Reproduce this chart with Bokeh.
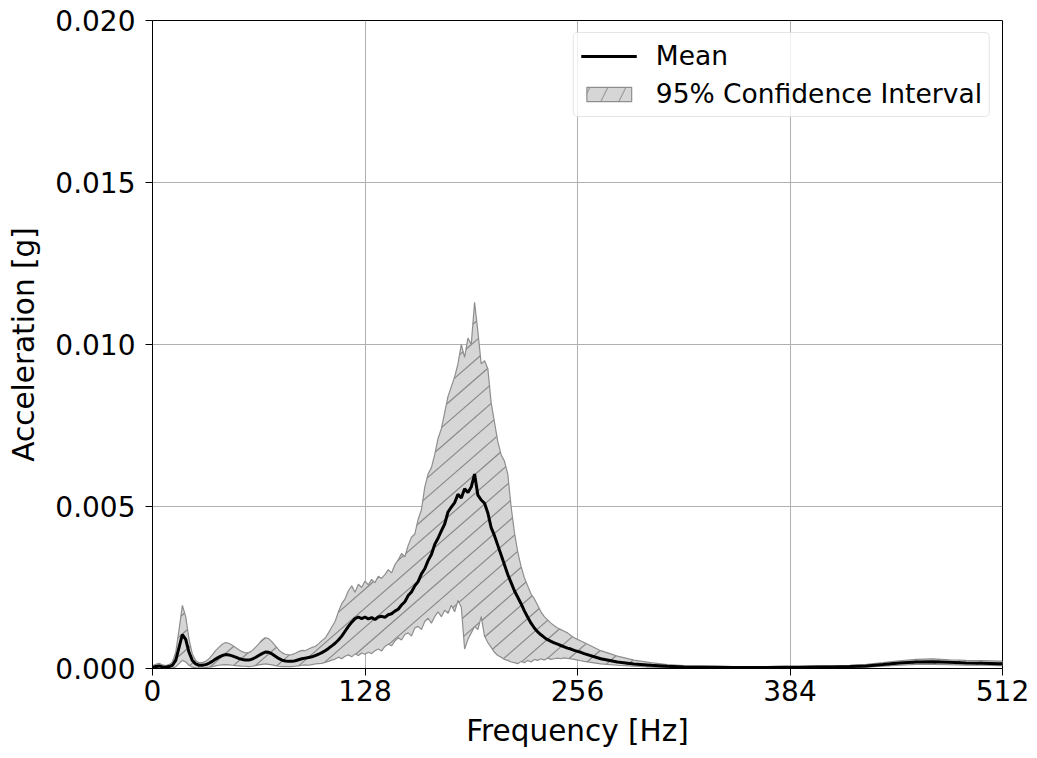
import numpy as np
from bokeh.plotting import figure
from bokeh.models import FixedTicker, PrintfTickFormatter, Range1d, Legend, LegendItem
from bokeh.embed import file_html
from bokeh.resources import INLINE

# Frequency grid [Hz]
freq = list(range(0, 260, 2)) + list(range(260, 511, 10)) + [512]

# Values in units of 1e-4 g
UNIT = 1e-4
mean_vals = [
    0.3, 0.6, 0.8, 0.5, 0.4, 0.6, 1.0, 2.5, 6.5, 10.5,
    9.0, 5.0, 2.5, 1.4, 1.0, 1.0, 1.2, 1.6, 2.2, 2.9,
    3.5, 4.0, 4.3, 4.2, 3.9, 3.5, 3.1, 2.8, 2.6, 2.6,
    2.9, 3.4, 4.0, 4.6, 5.1, 5.0, 4.5, 3.8, 3.1, 2.6,
    2.3, 2.2, 2.2, 2.4, 2.7, 3.0, 3.2, 3.4, 3.6, 4.0,
    4.4, 4.9, 5.5, 6.2, 7.0, 7.8, 8.8, 10.0, 11.5, 13.0,
    14.3, 15.4, 15.9, 15.4, 15.9, 15.3, 15.7, 15.1, 15.9, 16.1,
    15.8, 16.6, 16.9, 17.7, 18.3, 19.6, 20.6, 22.5, 23.6, 25.5,
    26.8, 29.2, 30.8, 33.3, 35.2, 38.3, 40.2, 42.5, 44.6, 48.3,
    49.8, 51.2, 53.8, 52.6, 55.5, 54.3, 56.0, 60.0, 53.5, 52.0,
    51.0, 48.0, 43.5, 41.0, 38.0, 35.0, 32.0, 29.0, 26.5, 24.0,
    22.0, 20.0, 17.8, 15.8, 14.0, 12.5, 11.3, 10.4, 9.6, 8.9,
    8.4, 7.9, 7.5, 7.1, 6.7, 6.3, 6.0, 5.6, 5.3, 5.0,
    4.6, 3.0, 2.0, 1.4, 1.0, 0.7, 0.5, 0.4, 0.35, 0.3,
    0.3, 0.3, 0.35, 0.4, 0.45, 0.5, 0.6, 0.8, 1.2, 1.7,
    2.0, 2.1, 1.9, 1.7, 1.6, 1.5,
    1.5,
]
upper_vals = [
    0.8, 1.3, 1.6, 1.1, 0.9, 1.2, 2.0, 5.0, 12.0, 19.5,
    16.0, 9.0, 4.5, 2.5, 1.8, 1.8, 2.2, 3.0, 4.2, 5.5,
    6.5, 7.5, 8.0, 7.8, 7.2, 6.5, 5.8, 5.2, 4.8, 4.9,
    5.5, 6.5, 7.6, 8.8, 9.5, 9.2, 8.2, 7.0, 5.8, 4.9,
    4.4, 4.2, 4.3, 4.7, 5.2, 5.6, 5.5, 6.0, 6.5, 6.8,
    7.6, 8.6, 9.4, 11.0, 12.8, 14.5, 17.5, 20.0, 21.5, 24.0,
    25.5, 23.5, 26.0, 25.0, 27.0, 25.8, 27.5, 26.5, 28.5, 27.8,
    29.0, 30.5, 29.5, 32.0, 33.5, 35.5, 34.5, 38.0, 40.5, 41.5,
    46.0, 49.0, 56.0, 60.0, 62.0, 66.0, 71.0, 74.0, 79.0, 84.0,
    87.0, 90.0, 94.0, 100.0, 96.0, 102.0, 100.0, 113.0, 104.0, 94.0,
    95.0, 92.5, 82.0, 76.0, 70.0, 66.0, 64.0, 60.0, 50.0, 42.0,
    36.0, 31.5, 28.0, 25.5, 23.0, 21.5, 19.5, 17.5, 16.0, 15.0,
    14.0, 13.2, 12.5, 12.0, 11.5, 11.0, 10.2, 9.5, 9.0, 8.5,
    8.0, 5.5, 3.8, 2.6, 1.8, 1.2, 0.9, 0.8, 0.7, 0.6,
    0.6, 0.6, 0.65, 0.7, 0.8, 0.9, 1.0, 1.3, 1.8, 2.4,
    2.8, 3.0, 2.7, 2.5, 2.4, 2.3,
    2.3,
]
lower_vals = [
    0.0, 0.1, 0.2, 0.1, 0.1, 0.1, 0.2, 0.5, 1.5, 2.5,
    2.0, 1.0, 0.4, 0.2, 0.2, 0.2, 0.3, 0.4, 0.6, 0.8,
    1.0, 1.1, 1.2, 1.1, 1.0, 0.9, 0.8, 0.7, 0.7, 0.6,
    0.7, 0.9, 1.1, 1.3, 1.4, 1.3, 1.1, 0.9, 0.7, 0.6,
    0.6, 0.6, 0.6, 0.7, 0.8, 1.0, 1.1, 1.0, 1.2, 1.4,
    1.5, 1.6, 1.9, 2.2, 2.6, 2.9, 3.5, 3.0, 3.8, 4.2,
    3.6, 4.5, 4.0, 4.8, 4.4, 5.0, 4.6, 5.5, 6.0, 5.4,
    6.8, 7.5, 7.0, 8.5, 9.5, 8.8, 10.5, 11.0, 10.0, 12.5,
    13.0, 12.0, 14.5, 15.5, 14.0, 16.0, 17.5, 16.0, 18.0, 17.0,
    19.5, 17.5, 21.0, 19.0, 6.0, 9.0, 11.0, 13.0, 12.0, 16.0,
    10.0, 8.0, 6.5, 5.0, 4.0, 3.5, 2.8, 2.5, 2.0, 1.8,
    1.5, 2.2, 1.8, 2.5, 2.0, 2.8, 2.5, 3.0, 2.6, 3.2,
    2.8, 3.0, 3.2, 3.0, 3.3, 3.1, 3.0, 2.8, 2.6, 2.4,
    2.2, 1.4, 1.0, 0.7, 0.4, 0.3, 0.2, 0.1, 0.1, 0.1,
    0.1, 0.1, 0.1, 0.15, 0.2, 0.2, 0.3, 0.4, 0.7, 1.0,
    1.3, 1.3, 1.2, 1.0, 1.0, 0.9,
    0.9,
]

x_ticks = [0, 128, 256, 384, 512]
y_ticks = [0.0, 0.005, 0.010, 0.015, 0.020]

mean = [v * UNIT for v in mean_vals]
upper = [v * UNIT for v in upper_vals]
lower = [v * UNIT for v in lower_vals]

FONT = "DejaVu Sans"
FRAME_W, FRAME_H = 850, 648
X_MAX, Y_MAX = 512, 0.02

FILL = "#d6d6d6"
EDGE = "#8e8e8e"
HATCH = "#888888"

p = figure(
    frame_width=FRAME_W, frame_height=FRAME_H,
    min_border_left=152, min_border_right=35, min_border_top=20, min_border_bottom=90,
    x_range=Range1d(0, X_MAX), y_range=Range1d(0, Y_MAX),
    output_backend="svg", toolbar_location=None,
    background_fill_color="white", border_fill_color="white",
)

# Confidence band fill (closed polygon)
band_x = list(freq) + list(freq[::-1])
band_y = list(upper) + list(lower[::-1])
p.patch(band_x, band_y, fill_color=FILL, line_color=None)

# Diagonal hatch lines (~41 deg on screen) clipped to the band
px_per_hz = FRAME_W / X_MAX
px_per_g = FRAME_H / Y_MAX
HATCH_SLOPE = 0.87
HATCH_GAP = 19.0
xf = np.linspace(0, X_MAX, 10241)
up_f = np.interp(xf, freq, upper)
lo_f = np.interp(xf, freq, lower)
xpx = xf * px_per_hz
hx, hy = [], []
for c in np.arange(-HATCH_SLOPE * FRAME_W + 7.0, FRAME_H, HATCH_GAP):
    yd = (HATCH_SLOPE * xpx + c) / px_per_g
    inside = (yd >= lo_f) & (yd <= up_f)
    if not inside.any():
        continue
    d = np.diff(inside.astype(int))
    starts = list(np.where(d == 1)[0] + 1)
    ends = list(np.where(d == -1)[0])
    if inside[0]:
        starts = [0] + starts
    if inside[-1]:
        ends = ends + [len(xf) - 1]
    for s, e in zip(starts, ends):
        if e > s:
            hx.append([float(xf[s]), float(xf[e])])
            hy.append([float(yd[s]), float(yd[e])])
p.multi_line(hx, hy, line_color=HATCH, line_width=1.2)

# Band edges
p.line(freq, upper, line_color=EDGE, line_width=1.2)
p.line(freq, lower, line_color=EDGE, line_width=1.2)

# Legend proxy for the band (hidden in the plot, only its legend glyph is shown)
band_proxy = p.patch(band_x, band_y, fill_color=FILL, line_color=EDGE, line_width=1.2,
                     hatch_pattern="/", hatch_color=HATCH, hatch_scale=36, hatch_weight=1.0,
                     visible=False)

mean_r = p.line(freq, mean, line_color="black", line_width=3)

# Axes
p.xaxis.ticker = FixedTicker(ticks=x_ticks)
p.yaxis.ticker = FixedTicker(ticks=y_ticks)
p.yaxis.formatter = PrintfTickFormatter(format="%.3f")
p.xaxis.axis_label = "Frequency [Hz]"
p.yaxis.axis_label = "Acceleration [g]"
for ax in (p.xaxis[0], p.yaxis[0]):
    ax.axis_label_text_font = FONT
    ax.axis_label_text_font_size = "29.5px"
    ax.axis_label_text_font_style = "normal"
    ax.axis_label_text_color = "black"
    ax.major_label_text_font = FONT
    ax.major_label_text_font_size = "28px"
    ax.major_label_text_color = "black"
    ax.major_tick_out = 7
    ax.major_tick_in = 0
    ax.minor_tick_out = 0
    ax.minor_tick_in = 0
    ax.axis_line_color = "black"
    ax.major_tick_line_color = "black"
p.xaxis.major_label_standoff = 4
p.xaxis.axis_label_standoff = 10
p.yaxis.major_label_standoff = 10
p.yaxis.axis_label_standoff = 11

p.xgrid.ticker = FixedTicker(ticks=x_ticks)
p.ygrid.ticker = FixedTicker(ticks=y_ticks)
p.grid.grid_line_color = "#b0b0b0"
p.grid.grid_line_width = 1
p.outline_line_color = "black"
p.outline_line_width = 1

legend = Legend(items=[
    LegendItem(label="Mean", renderers=[mean_r]),
    LegendItem(label="95% Confidence Interval", renderers=[band_proxy]),
], location="top_right")
legend.label_text_font = FONT
legend.label_text_font_size = "26.5px"
legend.label_text_color = "black"
legend.glyph_width = 56
legend.glyph_height = 18
legend.label_standoff = 19
legend.padding = 7
legend.spacing = 7
legend.margin = 12
legend.border_line_color = "#cccccc"
legend.border_line_width = 1
legend.border_radius = 5
legend.background_fill_alpha = 0.8
legend.inactive_fill_alpha = 0.0
p.add_layout(legend)

open("out.html", "w").write(file_html(p, INLINE))
